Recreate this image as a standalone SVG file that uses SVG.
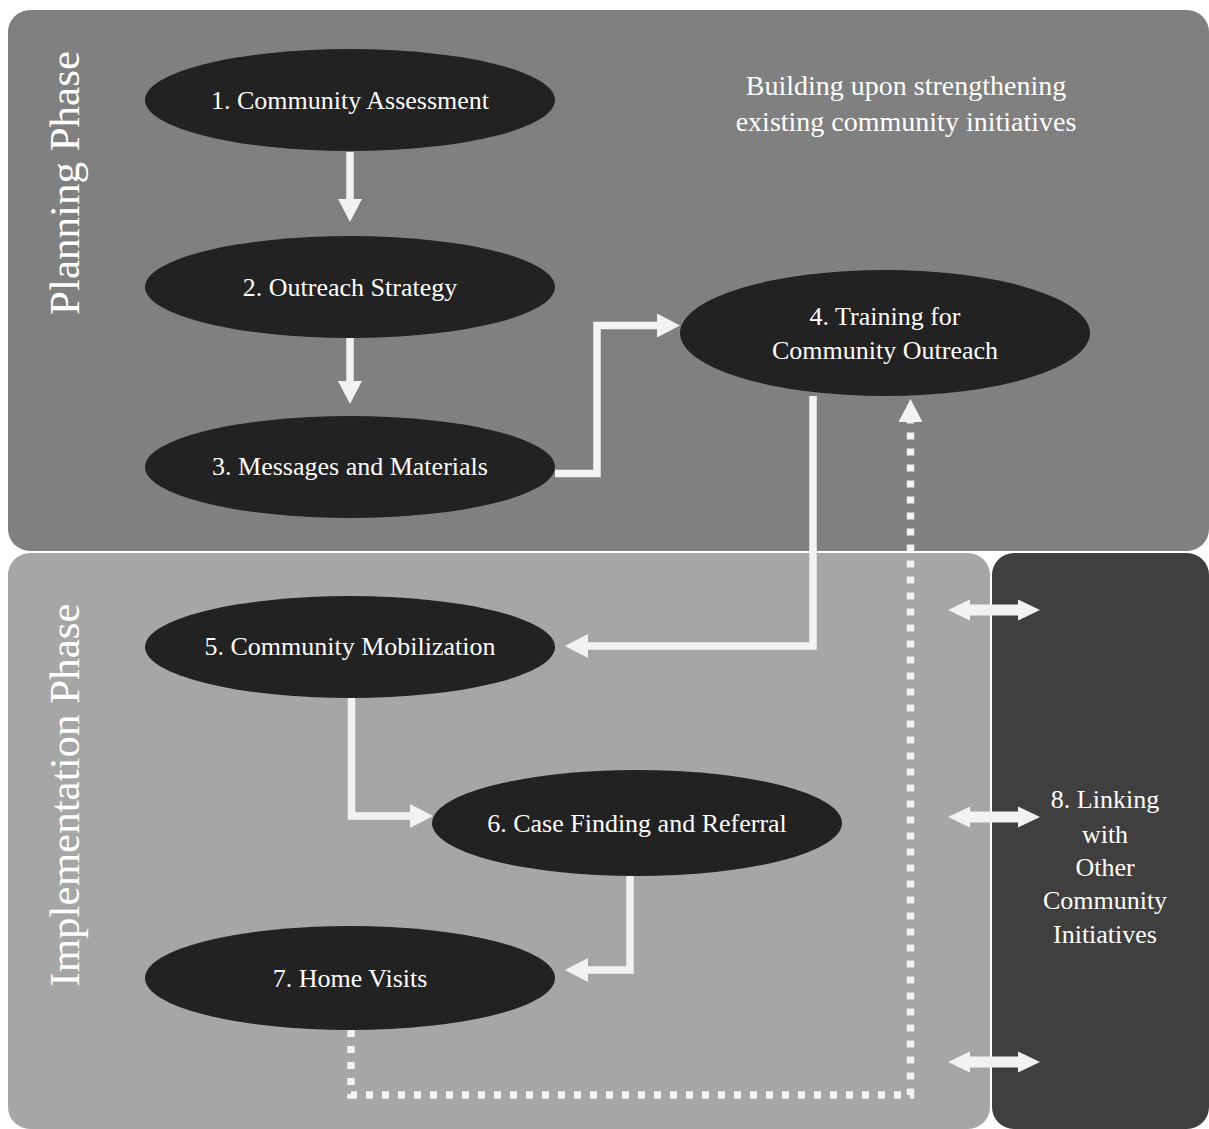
<svg xmlns="http://www.w3.org/2000/svg" width="1209" height="1129" viewBox="0 0 1209 1129">
<style>
.node{fill:#222222}
.lbl{font-family:"Liberation Serif","Times New Roman",serif;font-size:26px;fill:#ffffff;text-anchor:middle}
.phase{font-family:"Liberation Serif","Times New Roman",serif;font-size:43px;fill:#ffffff;text-anchor:middle}
.conn{fill:none;stroke:#f2f2f2;stroke-width:7.5;stroke-linejoin:miter}
.dot{stroke-dasharray:7 9}
</style>
<defs>
<marker id="ah" markerUnits="userSpaceOnUse" markerWidth="23" markerHeight="24" refX="0" refY="12" orient="auto" viewBox="0 0 23 24">
<path d="M0,0 L23,12 L0,24 z" fill="#f2f2f2"/>
</marker>
<polygon id="dbl" points="948,0 970,-10.5 970,-5.5 1018,-5.5 1018,-10.5 1040,0 1018,10.5 1018,5.5 970,5.5 970,10.5" fill="#f2f2f2"/>
</defs>
<g id="panels">
<rect x="8" y="10" width="1201" height="541" rx="22" fill="#808080"/>
<rect x="8" y="553" width="982" height="576" rx="22" fill="#a6a6a6"/>
<rect x="992" y="553" width="217" height="576" rx="22" fill="#3f3f3f"/>
<text class="phase" transform="translate(79,183) rotate(-90)">Planning Phase</text>
<text class="phase" transform="translate(79,795) rotate(-90)">Implementation Phase</text>
<text class="lbl" style="font-size:28px" x="906" y="95">Building upon strengthening</text>
<text class="lbl" style="font-size:28px" x="906" y="131">existing community initiatives</text>
</g>
<g id="connectors">
<path class="conn" d="M350,152 V199" marker-end="url(#ah)"/>
<path class="conn" d="M350,338 V381" marker-end="url(#ah)"/>
<path class="conn" d="M555,473.5 H597 V325.5 H657" marker-end="url(#ah)"/>
<path class="conn" d="M813,396 V646 H588" marker-end="url(#ah)"/>
<path class="conn" d="M351.5,698 V816 H410" marker-end="url(#ah)"/>
<path class="conn" d="M630,876 V970 H588" marker-end="url(#ah)"/>
<path class="conn dot" d="M351,1030 V1095 H910.5 V422" marker-end="url(#ah)"/>
<use href="#dbl" y="610"/>
<use href="#dbl" y="817"/>
<use href="#dbl" y="1062"/>
</g>
<g id="n1"><ellipse class="node" cx="350" cy="100" rx="205" ry="51"/><text class="lbl" x="350" y="109">1. Community Assessment</text></g>
<g id="n2"><ellipse class="node" cx="350" cy="287" rx="205" ry="51"/><text class="lbl" x="350" y="296">2. Outreach Strategy</text></g>
<g id="n3"><ellipse class="node" cx="350" cy="467" rx="205" ry="51"/><text class="lbl" x="350" y="475">3. Messages and Materials</text></g>
<g id="n4"><ellipse class="node" cx="885" cy="333" rx="205" ry="63"/><text class="lbl" x="885" y="325">4. Training for</text><text class="lbl" x="885" y="359">Community Outreach</text></g>
<g id="n5"><ellipse class="node" cx="350" cy="647" rx="205" ry="51"/><text class="lbl" x="350" y="655">5. Community Mobilization</text></g>
<g id="n6"><ellipse class="node" cx="637" cy="823" rx="205" ry="53"/><text class="lbl" x="637" y="832">6. Case Finding and Referral</text></g>
<g id="n7"><ellipse class="node" cx="350" cy="978" rx="205" ry="52"/><text class="lbl" x="350" y="987">7. Home Visits</text></g>
<g id="n8">
<text class="lbl" x="1105" y="808">8. Linking</text>
<text class="lbl" x="1105" y="843">with</text>
<text class="lbl" x="1105" y="876">Other</text>
<text class="lbl" x="1105" y="909">Community</text>
<text class="lbl" x="1105" y="943">Initiatives</text>
</g>
</svg>
